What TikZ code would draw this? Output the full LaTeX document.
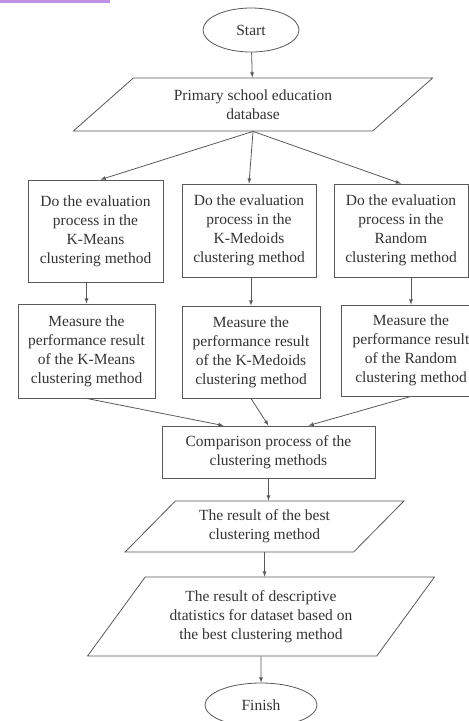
\documentclass[tikz,border=0pt]{standalone}
\usepackage{fontspec}
\setmainfont{Liberation Serif}
\usetikzlibrary{shapes,arrows}

\definecolor{lineg}{gray}{0.35}
\definecolor{textg}{gray}{0.2}
\definecolor{stripe}{RGB}{192,145,228}

\begin{document}
\begin{tikzpicture}[x=1pt,y=-1pt,
   every node/.style={font=\fontsize{15.5}{19}\selectfont, text=textg, align=center, inner sep=0pt},
   term/.style={draw=lineg, line width=0.8pt, ellipse, minimum width=96pt, minimum height=44pt},
   proc/.style={draw=lineg, line width=0.8pt, rectangle},
   data/.style={draw=lineg, line width=0.8pt, trapezium, trapezium stretches=true},
   flow/.style={draw=lineg, line width=0.8pt, -latex}]
   \useasboundingbox (0,0) rectangle (469,721);
   \fill[stripe] (0,0) rectangle (110,2.5);

   % start and data
   \node[term] (start) at (251,30) {Start};
   \node[data, minimum width=360pt, minimum height=53pt, trapezium left angle=37, trapezium right angle=143] (db) at (253,104.5) {Primary school education\\database};

   % evaluation row
   \node[proc, minimum width=135pt, minimum height=102pt] (evalA) at (95.5,231) {Do the evaluation\\process in the\\K-Means\\clustering method};
   \node[proc, minimum width=134pt, minimum height=93pt] (evalB) at (249,230.5) {Do the evaluation\\process in the\\K-Medoids\\clustering method};
   \node[proc, minimum width=134pt, minimum height=93pt] (evalC) at (401,230.5) {Do the evaluation\\process in the\\Random\\clustering method};

   % performance row
   \node[proc, minimum width=137pt, minimum height=94pt] (perfA) at (86.5,351) {Measure the\\performance result\\of the K-Means\\clustering method};
   \node[proc, minimum width=138pt, minimum height=92pt] (perfB) at (251,352) {Measure the\\performance result\\of the K-Medoids\\clustering method};
   \node[proc, minimum width=140pt, minimum height=91pt] (perfC) at (411,350.5) {Measure the\\performance result\\of the Random\\clustering method};

   \node[proc, minimum width=213pt, minimum height=52pt] (comp) at (268.5,452) {Comparison process of the\\clustering methods};
   \node[data, minimum width=279pt, minimum height=51pt, trapezium left angle=42, trapezium right angle=138] (best) at (264.5,526.5) {The result of the best\\clustering method};
   \node[data, minimum width=348pt, minimum height=79pt, trapezium left angle=49, trapezium right angle=131] (stat) at (261,616.5) {The result of descriptive\\dtatistics for dataset based on\\the best clustering method};
   \node[term, minimum width=112pt] (finish) at (261,705) {Finish};

   \draw[flow] (start) -- (db);
   \draw[flow] (db.south) -- ([xshift=5pt]evalA.north);
   \draw[flow] (db.south) -- (evalB.north);
   \draw[flow] (db.south) -- (evalC.north);
   \draw[flow] (evalA.south -| perfA) -- (perfA);
   \draw[flow] (evalB.south -| perfB) -- (perfB);
   \draw[flow] (evalC.south -| perfC) -- (perfC);
   \draw[flow] (perfA.south) -- ([xshift=-45pt]comp.north);
   \draw[flow] (perfB.south) -- (comp.north);
   \draw[flow] (perfC.south) -- ([xshift=40pt]comp.north);
   \draw[flow] (comp.south) -- (comp.south |- best.north);
   \draw[flow] (best.south) -- (best.south |- stat.north);
   \draw[flow] (stat) -- (finish);
\end{tikzpicture}
\end{document}
